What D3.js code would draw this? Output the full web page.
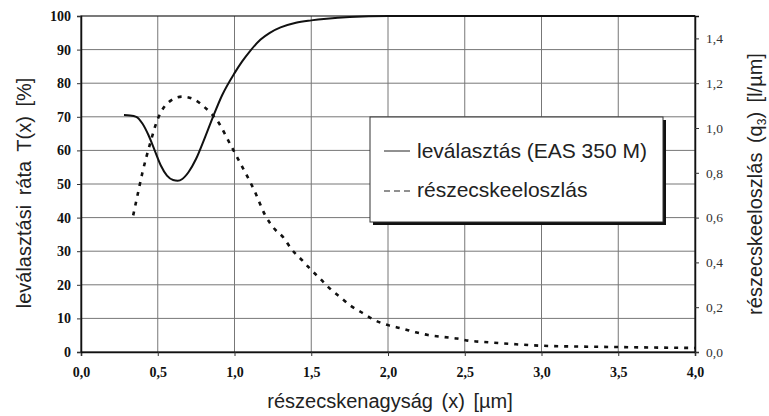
<!DOCTYPE html>
<html><head><meta charset="utf-8">
<script src="https://cdn.jsdelivr.net/npm/d3@7"></script>
<style>body{margin:0;background:#fff}</style>
</head><body>
<svg id="c" width="769" height="416"></svg>
<script>
// Data
const sepX = [0.28,0.32,0.36,0.40,0.44,0.48,0.52,0.56,0.60,0.63,0.66,0.70,0.75,0.80,0.86,0.92,1.00,1.05,1.10,1.17,1.23,1.30,1.40,1.50,1.60,1.75,2.00,2.50,3.00,3.50,4.00];
const sepY = [70.5,70.4,70.0,68.0,64.5,60.0,55.5,52.5,51.2,51.0,51.5,53.5,57.5,63.0,70.0,76.5,83.0,86.5,89.5,93.0,95.0,96.6,98.0,98.7,99.2,99.7,100,100,100,100,100];
const distX = [0.34,0.365,0.40,0.45,0.50,0.58,0.66,0.73,0.81,0.90,0.97,1.04,1.13,1.20,1.26,1.32,1.37,1.44,1.50,1.56,1.62,1.69,1.76,1.84,1.91,2.00,2.09,2.18,2.26,2.36,2.45,2.53,2.62,2.80,3.00,3.50,4.00];
const distY = [0.61,0.69,0.80,0.93,1.04,1.12,1.14,1.13,1.09,1.02,0.93,0.84,0.72,0.61,0.55,0.51,0.46,0.41,0.366,0.326,0.284,0.244,0.205,0.172,0.143,0.12,0.105,0.088,0.076,0.067,0.060,0.050,0.045,0.036,0.028,0.022,0.018];
const xTicks = [0,0.5,1,1.5,2,2.5,3,3.5,4];
const yTicks = [0,10,20,30,40,50,60,70,80,90,100];
const y2Ticks = [0,0.2,0.4,0.6,0.8,1.0,1.2,1.4];
const legendLabels = ["leválasztás (EAS 350 M)","részecskeeloszlás"];
const xTitle = "részecskenagyság (x) [µm]";
const yTitle = "leválasztási ráta T(x) [%]";

const svg = d3.select("#c");
const L=81,R=695,T=16,B=352;
const x = d3.scaleLinear().domain([0,4]).range([L,R]);
const y = d3.scaleLinear().domain([0,100]).range([B,T]);
const y2 = d3.scaleLinear().domain([0,1.5]).range([B,T]);
const comma = d => d3.format(".1f")(d).replace(".",",");

// grid
const g = svg.append("g");
g.selectAll(".vg").data(xTicks.slice(1,-1)).join("line")
  .attr("x1",d=>x(d)).attr("x2",d=>x(d)).attr("y1",T).attr("y2",B)
  .attr("stroke","#777").attr("stroke-width",1);
g.selectAll(".hg").data(yTicks.slice(1,-1)).join("line")
  .attr("x1",L).attr("x2",R).attr("y1",d=>y(d)).attr("y2",d=>y(d))
  .attr("stroke","#777").attr("stroke-width",1);
// frame
svg.append("rect").attr("x",L).attr("y",T).attr("width",R-L).attr("height",B-T)
  .attr("fill","none").attr("stroke","#222").attr("stroke-width",1.2);

// axes
const ax = svg.append("g").attr("transform",`translate(0,${B})`)
  .call(d3.axisBottom(x).tickValues(xTicks).tickSize(4).tickFormat(comma));
const ay = svg.append("g").attr("transform",`translate(${L},0)`)
  .call(d3.axisLeft(y).tickValues(yTicks).tickSize(4).tickFormat(d3.format("d")));
const ay2 = svg.append("g").attr("transform",`translate(${R},0)`)
  .call(d3.axisRight(y2).tickValues(y2Ticks).tickSize(4).tickFormat(comma));
[ax,ay,ay2].forEach(a=>{a.select(".domain").attr("stroke","#111").attr("stroke-width",1.5);a.selectAll(".tick line").attr("stroke","#333");});
ax.selectAll("text").attr("font-family","Liberation Serif").attr("font-weight","bold").attr("font-size",14).attr("fill","#111").attr("y",15).attr("dy","0.71em");
ay.selectAll("text").attr("font-family","Liberation Serif").attr("font-weight","bold").attr("font-size",14).attr("fill","#111").attr("x",-10);
ay2.selectAll("text").attr("font-family","Liberation Serif").attr("font-size",13.5).attr("fill","#333").attr("x",11);

// lines
const line1 = d3.line().x((d,i)=>x(sepX[i])).y(d=>y(d)).curve(d3.curveMonotoneX);
svg.append("path").attr("d",line1(sepY)).attr("fill","none").attr("stroke","#111").attr("stroke-width",2);
const line2 = d3.line().x((d,i)=>x(distX[i])).y(d=>y2(d)).curve(d3.curveMonotoneX);
svg.append("path").attr("d",line2(distY)).attr("fill","none").attr("stroke","#111").attr("stroke-width",2.6).attr("stroke-dasharray","4,6");

// legend
svg.append("rect").attr("x",373).attr("y",120).attr("width",293).attr("height",105).attr("fill","#111");
svg.append("rect").attr("x",370).attr("y",117).attr("width",293).attr("height",105).attr("fill","#fff").attr("stroke","#333").attr("stroke-width",1);
svg.append("line").attr("x1",384).attr("x2",410).attr("y1",151).attr("y2",151).attr("stroke","#222").attr("stroke-width",1);
svg.append("line").attr("x1",384).attr("x2",412).attr("y1",191).attr("y2",191).attr("stroke","#222").attr("stroke-width",1.2).attr("stroke-dasharray","6,4");
svg.selectAll(".lt").data(legendLabels).join("text")
  .attr("x",417).attr("y",(d,i)=>158+i*39).text(d=>d)
  .attr("font-family","Liberation Sans").attr("font-size",21).attr("fill","#222");

// titles
svg.append("text").attr("x",390).attr("y",408).attr("text-anchor","middle").text(xTitle)
  .attr("font-family","Liberation Sans").attr("font-size",20).attr("fill","#222").attr("word-spacing",3);
svg.append("text").attr("transform","translate(31,193) rotate(-90)").attr("text-anchor","middle").text(yTitle)
  .attr("font-family","Liberation Sans").attr("font-size",20).attr("fill","#222").attr("word-spacing",4);
const t2 = svg.append("text").attr("transform","translate(762,184) rotate(-90)").attr("text-anchor","middle")
  .attr("font-family","Liberation Sans").attr("font-size",20).attr("fill","#222").attr("word-spacing",4);
t2.append("tspan").text("részecskeeloszlás (q");
t2.append("tspan").text("3").attr("font-size",12).attr("dy",4);
t2.append("tspan").text(") [l/µm]").attr("dy",-4);
</script>
</body></html>
